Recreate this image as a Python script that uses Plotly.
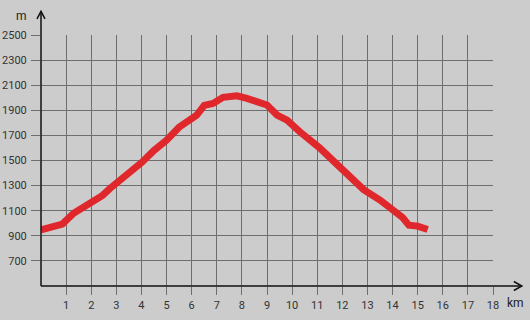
import plotly.graph_objects as go

# Elevation profile data (km, m)
distance_km = [0, 0.45, 0.85, 1.3, 2.05, 2.45, 2.75, 3.0, 3.35, 3.7, 4.0, 4.5, 5.0, 5.5,
               5.8, 6.2, 6.5, 6.85, 7.25, 7.8, 8.2, 8.6, 9.0, 9.4, 9.8, 10.3, 10.85, 11.1,
               11.65, 12.1, 12.85, 13.5, 14.15, 14.4, 14.65, 15.0, 15.4]
elevation_m = [948, 971, 993, 1080, 1170, 1222, 1278, 1318, 1370, 1438, 1482, 1580,
               1662, 1765, 1810, 1862, 1940, 1955, 2003, 2015, 1995, 1962, 1942, 1862, 1822,
               1730, 1650, 1600, 1495, 1405, 1268, 1185, 1092, 1045, 985, 977, 950]

x_ticks = list(range(1, 19))
y_ticks = list(range(700, 2501, 200))

W, H = 530, 320
ML, MR, MT, MB = 41.4, 37.3, 34.7, 34.3
PW, PH = W - ML - MR, H - MT - MB

def px(xp):
    return (xp - ML) / PW

def py(yp):
    return (H - MB - yp) / PH

fig = go.Figure()
fig.add_trace(go.Scatter(x=distance_km, y=elevation_m, mode="lines",
                         line=dict(color="#e0282c", width=7), hoverinfo="skip"))

axis_font = dict(family="Roboto, Arial, sans-serif", size=11, color="#333333")
grid_col = "#6e6e6e"

fig.update_layout(
    width=W, height=H,
    margin=dict(l=ML, r=MR, t=MT, b=MB, pad=0, autoexpand=False),
    paper_bgcolor="#cccccc", plot_bgcolor="#cccccc",
    showlegend=False,
    xaxis=dict(range=[0, 18], tickvals=x_ticks, ticktext=[str(v) for v in x_ticks],
               showgrid=True, gridcolor=grid_col, gridwidth=1, automargin=False,
               ticks="outside", ticklen=8, tickcolor=grid_col, tickwidth=1,
               ticklabelstandoff=1,
               showline=False, zeroline=False, tickfont=axis_font, fixedrange=True),
    yaxis=dict(range=[500, 2500], tickvals=y_ticks, ticktext=[str(v) for v in y_ticks],
               showgrid=True, gridcolor=grid_col, gridwidth=1, automargin=False,
               ticks="outside", ticklen=9, tickcolor=grid_col, tickwidth=1,
               ticklabelstandoff=2,
               showline=False, zeroline=False, tickfont=axis_font, fixedrange=True),
)

shapes = []
# x axis line with arrow
ax_y = H - MB
shapes.append(dict(type="line", xref="paper", yref="paper", x0=px(41.4), y0=py(ax_y),
                   x1=px(521.5), y1=py(ax_y), line=dict(color="#111111", width=1.5)))
shapes.append(dict(type="path", xref="paper", yref="paper",
                   path=f"M {px(513.5)} {py(ax_y-4.5)} L {px(521.5)} {py(ax_y)} L {px(513.5)} {py(ax_y+4.5)}",
                   line=dict(color="#111111", width=1.5)))
# y axis line with arrow
shapes.append(dict(type="line", xref="paper", yref="paper", x0=px(41.4), y0=py(ax_y),
                   x1=px(41.4), y1=py(11), line=dict(color="#111111", width=1.5)))
shapes.append(dict(type="path", xref="paper", yref="paper",
                   path=f"M {px(37.4)} {py(18.5)} L {px(41.4)} {py(11)} L {px(45.4)} {py(18.5)}",
                   line=dict(color="#111111", width=1.5)))
fig.update_layout(shapes=shapes)

fig.add_annotation(text="m", xref="paper", yref="paper", x=px(22), y=py(16),
                   showarrow=False, font=dict(family="Roboto, Arial, sans-serif", size=12, color="#222222"),
                   xanchor="center", yanchor="middle")
fig.add_annotation(text="km", xref="paper", yref="paper", x=px(515), y=py(303),
                   showarrow=False, font=dict(family="Roboto, Arial, sans-serif", size=12, color="#222222"),
                   xanchor="center", yanchor="middle")

fig.write_html("out.html", config=dict(displayModeBar=False))
